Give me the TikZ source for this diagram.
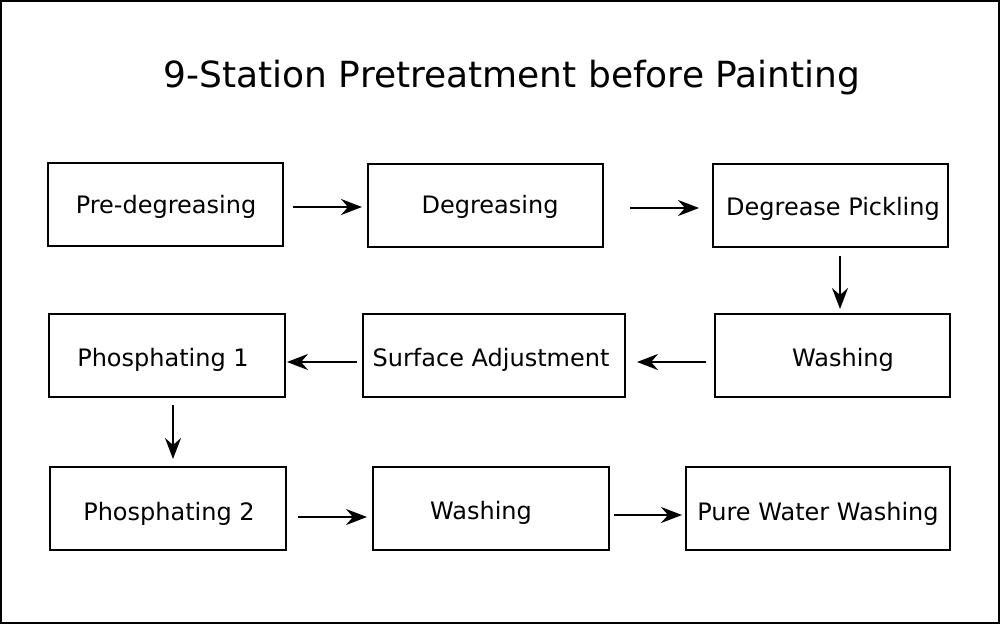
\documentclass[tikz,border=0pt]{standalone}
\usepackage{fontspec}
\setmainfont{DejaVu Sans}
\usetikzlibrary{arrows.meta}
\begin{document}
\begin{tikzpicture}[x=1pt,y=-1pt,
  stationbox/.style={draw=black,line width=1.1pt},
  lbl/.style={inner sep=0pt,font=\fontsize{24}{28}\selectfont,anchor=center},
  flow/.style={line width=2.2pt,-{Stealth[length=21pt,width=16pt,inset=7pt]}}]
\useasboundingbox (0,0) rectangle (1000,624);
\draw[line width=2pt] (1,1) rectangle (999,623);
\node[font=\fontsize{36}{42}\selectfont,inner sep=0pt] (title) at (512,78) {9-Station Pretreatment before Painting};
% boxes
\draw[stationbox] (48,163) rectangle (283,246);
\node[lbl] (t1) at (166,207) {Pre-degreasing};
\draw[stationbox] (368,164) rectangle (603,247);
\node[lbl] (t2) at (490,207) {Degreasing};
\draw[stationbox] (713,164) rectangle (948,247);
\node[lbl] (t3) at (833,209) {Degrease Pickling};
\draw[stationbox] (715,314) rectangle (950,397);
\node[lbl] (t4) at (843,360) {Washing};
\draw[stationbox] (363,314) rectangle (625,397);
\node[lbl] (t5) at (491,360) {Surface Adjustment};
\draw[stationbox] (49,314) rectangle (285,397);
\node[lbl] (t6) at (163,360) {Phosphating 1};
\draw[stationbox] (50,467) rectangle (286,550);
\node[lbl] (t7) at (169,514) {Phosphating 2};
\draw[stationbox] (373,467) rectangle (609,550);
\node[lbl] (t8) at (481,513) {Washing};
\draw[stationbox] (686,467) rectangle (950,550);
\node[lbl] (t9) at (818,514) {Pure Water Washing};
% arrow endpoints
\coordinate (a1s) at (293,207); \coordinate (a1e) at (362,207);
\coordinate (a2s) at (630,208); \coordinate (a2e) at (699,208);
\coordinate (a3s) at (840,256); \coordinate (a3e) at (840,309);
\coordinate (a4s) at (706,362); \coordinate (a4e) at (637,362);
\coordinate (a5s) at (357,362); \coordinate (a5e) at (287,362);
\coordinate (a6s) at (173,405); \coordinate (a6e) at (173,459);
\coordinate (a7s) at (298,517); \coordinate (a7e) at (367,517);
\coordinate (a8s) at (614,515); \coordinate (a8e) at (682,515);
\draw[flow] (a1s) -- (a1e);
\draw[flow] (a2s) -- (a2e);
\draw[flow] (a3s) -- (a3e);
\draw[flow] (a4s) -- (a4e);
\draw[flow] (a5s) -- (a5e);
\draw[flow] (a6s) -- (a6e);
\draw[flow] (a7s) -- (a7e);
\draw[flow] (a8s) -- (a8e);
\end{tikzpicture}
\end{document}
